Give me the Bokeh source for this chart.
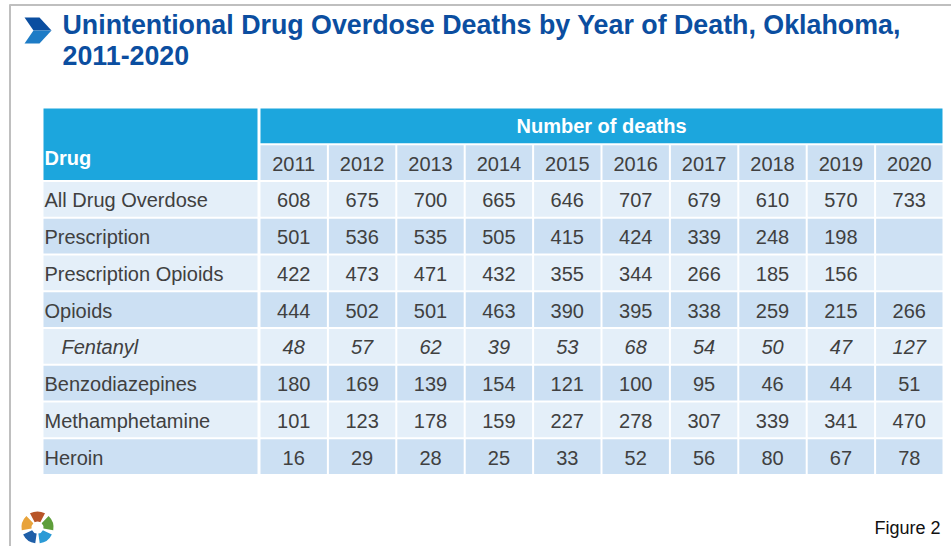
import math
from bokeh.plotting import figure
from bokeh.models import Range1d
from bokeh.core.properties import value
from bokeh.embed import file_html
from bokeh.resources import INLINE

# ---------------- data ----------------
title_lines = ["Unintentional Drug Overdose Deaths by Year of Death, Oklahoma,", "2011-2020"]
group_header = "Number of deaths"
first_header = "Drug"
years = ["2011", "2012", "2013", "2014", "2015", "2016", "2017", "2018", "2019", "2020"]
drugs = ["All Drug Overdose", "Prescription", "Prescription Opioids", "Opioids",
         "Fentanyl", "Benzodiazepines", "Methamphetamine", "Heroin"]
all_drug_overdose = [608, 675, 700, 665, 646, 707, 679, 610, 570, 733]
prescription = [501, 536, 535, 505, 415, 424, 339, 248, 198, None]
prescription_opioids = [422, 473, 471, 432, 355, 344, 266, 185, 156, None]
opioids = [444, 502, 501, 463, 390, 395, 338, 259, 215, 266]
fentanyl = [48, 57, 62, 39, 53, 68, 54, 50, 47, 127]
benzodiazepines = [180, 169, 139, 154, 121, 100, 95, 46, 44, 51]
methamphetamine = [101, 123, 178, 159, 227, 278, 307, 339, 341, 470]
heroin = [16, 29, 28, 25, 33, 52, 56, 80, 67, 78]
italic_rows = ["Fentanyl"]
footer = "Figure 2"

series = [all_drug_overdose, prescription, prescription_opioids, opioids,
          fentanyl, benzodiazepines, methamphetamine, heroin]

# ---------------- layout ----------------
W, H = 951, 546
FONT = value("Liberation Sans")
X0, LABEL_W, COL_W = 43.0, 216.0, 68.4
Y0, ROW_H = 108.0, 36.75
GAP = 2.0
HEAD_BLUE = "#1CA6DD"
YEAR_BG = "#CCE0F3"
LIGHT = "#E4EFF9"
DARK = "#CCE0F3"
TXT = "#404040"
TITLE_C = "#0B4EA0"

p = figure(width=W, height=H, output_backend="svg", toolbar_location=None,
           x_range=Range1d(0, W), y_range=Range1d(H, 0), min_border=0)
p.axis.visible = False
p.grid.visible = False
p.outline_line_color = None
p.background_fill_color = "white"
p.border_fill_color = "white"

# frame
p.segment(x0=[9.5, 9], y0=[4, 4.5], x1=[9.5, W], y1=[H, 4.5], line_color="#BFBFBF", line_width=2)

# chevron
p.patch(x=[24, 39, 51, 33], y=[17, 17, 30, 30], fill_color="#0B4EA0", line_color=None)
p.patch(x=[33, 51, 39, 24], y=[30, 30, 43, 43], fill_color="#1E7CC6", line_color=None)

# title
p.text(x=[62, 62], y=[24, 55], text=title_lines, text_font=FONT, text_font_style="bold",
       text_font_size="26.8px", text_color=TITLE_C, text_baseline="middle", text_align="left")

def col_left(j):
    return X0 + LABEL_W + COL_W * j

def row_top(k):
    return Y0 + ROW_H * k

# header cells
hx, hy, hw, hh, hc = [], [], [], [], []
hx.append(X0 + (LABEL_W - GAP) / 2); hy.append(Y0 + (2 * ROW_H - GAP) / 2)
hw.append(LABEL_W - GAP); hh.append(2 * ROW_H - GAP); hc.append(HEAD_BLUE)
span_w = COL_W * len(years)
hx.append(col_left(0) + GAP / 2 + (span_w - GAP) / 2); hy.append(Y0 + (ROW_H - GAP) / 2)
hw.append(span_w - GAP); hh.append(ROW_H - GAP); hc.append(HEAD_BLUE)
for j in range(len(years)):
    hx.append(col_left(j) + GAP / 2 + (COL_W - GAP) / 2)
    hy.append(row_top(1) + (ROW_H - GAP) / 2)
    hw.append(COL_W - GAP); hh.append(ROW_H - GAP); hc.append(YEAR_BG)
p.rect(x=hx, y=hy, width=hw, height=hh, fill_color=hc, line_color=None)

# body cells
bx, by, bw, bh, bc = [], [], [], [], []
for i, d in enumerate(drugs):
    top = row_top(2 + i)
    color = LIGHT if i % 2 == 0 else DARK
    bx.append(X0 + (LABEL_W - GAP) / 2); by.append(top + (ROW_H - GAP) / 2)
    bw.append(LABEL_W - GAP); bh.append(ROW_H - GAP); bc.append(color)
    for j in range(len(years)):
        bx.append(col_left(j) + GAP / 2 + (COL_W - GAP) / 2)
        by.append(top + (ROW_H - GAP) / 2)
        bw.append(COL_W - GAP); bh.append(ROW_H - GAP); bc.append(color)
p.rect(x=bx, y=by, width=bw, height=bh, fill_color=bc, line_color=None)

# header texts
p.text(x=[X0 + 1], y=[157], text=[first_header], text_font=FONT, text_font_style="bold",
       text_font_size="20px", text_color="white", text_baseline="middle", text_align="left")
p.text(x=[col_left(0) + span_w / 2], y=[row_top(0) + ROW_H / 2 - 0.5], text=[group_header],
       text_font=FONT, text_font_style="bold", text_font_size="20px", text_color="white",
       text_baseline="middle", text_align="center")
p.text(x=[col_left(j) + COL_W / 2 for j in range(len(years))],
       y=[row_top(1) + ROW_H / 2] * len(years), text=years, text_font=FONT,
       text_font_size="20px", text_color=TXT, text_baseline="middle", text_align="center")

# body texts
for style in ["normal", "italic"]:
    lx, ly, lt = [], [], []
    vx, vy, vt = [], [], []
    for i, d in enumerate(drugs):
        is_it = d in italic_rows
        if (style == "italic") != is_it:
            continue
        cy = row_top(2 + i) + ROW_H / 2
        lx.append(X0 + 1 + (17 if is_it else 0)); ly.append(cy); lt.append(d)
        for j, v in enumerate(series[i]):
            if v is None:
                continue
            vx.append(col_left(j) + COL_W / 2); vy.append(cy); vt.append(str(v))
    p.text(x=lx, y=ly, text=lt, text_font=FONT, text_font_style=style, text_font_size="20px",
           text_color=TXT, text_baseline="middle", text_align="left")
    p.text(x=vx, y=vy, text=vt, text_font=FONT, text_font_style=style, text_font_size="20px",
           text_color=TXT, text_baseline="middle", text_align="center")

# logo (decorative)
logo_colors = ["#2B9AD6", "#1F5FA8", "#E8A33A", "#B85528", "#5E9E3A"]
screen_centers = [54, 126, 198, 270, 342]
for c, sc in zip(logo_colors, screen_centers):
    dc = -sc
    p.annular_wedge(x=[37], y=[527], inner_radius=6, outer_radius=16,
                    start_angle=math.radians(dc - 28), end_angle=math.radians(dc + 28),
                    fill_color=c, line_color=None)

# footer
p.text(x=[940], y=[527], text=[footer], text_font=FONT, text_font_size="18px",
       text_color="#111111", text_baseline="middle", text_align="right")

open("out.html", "w").write(file_html(p, INLINE))
